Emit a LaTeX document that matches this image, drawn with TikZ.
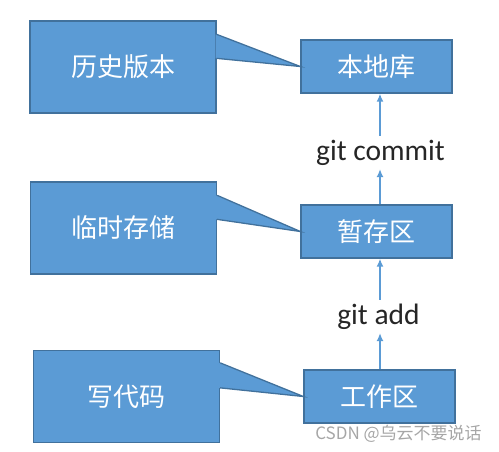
\documentclass[tikz,border=0pt]{standalone}
\usepackage{fontspec}
\setmainfont{Carlito}
\newfontfamily\cjk{Noto Sans CJK SC}
\usetikzlibrary{calc,arrows.meta}

\definecolor{boxblue}{HTML}{5B9BD5}
\definecolor{boxedge}{HTML}{41719C}
\definecolor{cmdtext}{HTML}{262626}
\definecolor{marktext}{HTML}{A6A6A6}

\tikzset{
	notebox/.style={draw=boxedge, fill=boxblue, line width=1.3pt, minimum width=186pt, minimum height=92pt, inner sep=0pt, text=white, font=\cjk\fontsize{26}{30}\selectfont},
	areabox/.style={draw=boxedge, fill=boxblue, line width=1.3pt, minimum width=151pt, minimum height=53pt, inner sep=0pt, text=white, font=\cjk\fontsize{26}{30}\selectfont},
	tailfill/.style={fill=boxblue},
	tailline/.style={draw=boxedge, line width=1.3pt, line join=miter},
	gitcmd/.style={text=cmdtext, font=\fontsize{29.5}{34}\selectfont, inner sep=0pt, outer ysep=4pt},
	flow/.style={->, draw=boxblue, line width=1.6pt},
}

\begin{document}
\begin{tikzpicture}[>={Latex[length=8pt,width=7pt]}, x=1pt, y=-1pt]
	\useasboundingbox (0,0) rectangle (499,451);

	% the three areas on the right
	\node[areabox] (repo) at (376.5,66.5) {本地库};
	\node[areabox] (stage) at (376.5,231.5) {暂存区};
	\node[areabox] (work) at (379.5,396.5) {工作区};

	% the notes on the left
	\node[notebox] (history) at (123,67) {历史版本};
	\node[notebox] (temp) at (123.5,228) {临时存储};
	\node[notebox] (code) at (126.5,396.5) {写代码};

	% tail of each note, pointing at its area
	\fill[tailfill] ($(history.north east)+(-1,14)$) -- (repo.west) -- ($(history.north east)+(-1,38)$) -- cycle;
	\draw[tailline] ($(history.north east)+(0,14)$) -- (repo.west) -- ($(history.north east)+(0,38)$);

	\fill[tailfill] ($(temp.north east)+(-1,14)$) -- (stage.west) -- ($(temp.north east)+(-1,38)$) -- cycle;
	\draw[tailline] ($(temp.north east)+(0,14)$) -- (stage.west) -- ($(temp.north east)+(0,38)$);

	\fill[tailfill] ($(code.north east)+(-1,13)$) -- (work.west) -- ($(code.north east)+(-1,38)$) -- cycle;
	\draw[tailline] ($(code.north east)+(0,13)$) -- (work.west) -- ($(code.north east)+(0,38)$);

	% git commands between the areas
	\node[gitcmd, anchor=base] (commit) at (380.5,160) {git commit};
	\node[gitcmd, anchor=base] (add) at (378.5,324) {git add};

	\coordinate (commitx) at (380,0);
	\coordinate (addx) at (380,0);

	\draw[flow] (commitx |- stage.north) -- (commitx |- commit.south);
	\draw[flow] (commitx |- commit.north) -- (commitx |- repo.south);
	\draw[flow] (addx |- work.north) -- (addx |- add.south);
	\draw[flow] (addx |- add.north) -- (addx |- stage.south);

	% watermark
	\node[text=marktext, font=\cjk\fontsize{17}{19}\selectfont, inner sep=0pt] (mark) at (398.5,433.5) {CSDN @乌云不要说话};
\end{tikzpicture}
\end{document}
